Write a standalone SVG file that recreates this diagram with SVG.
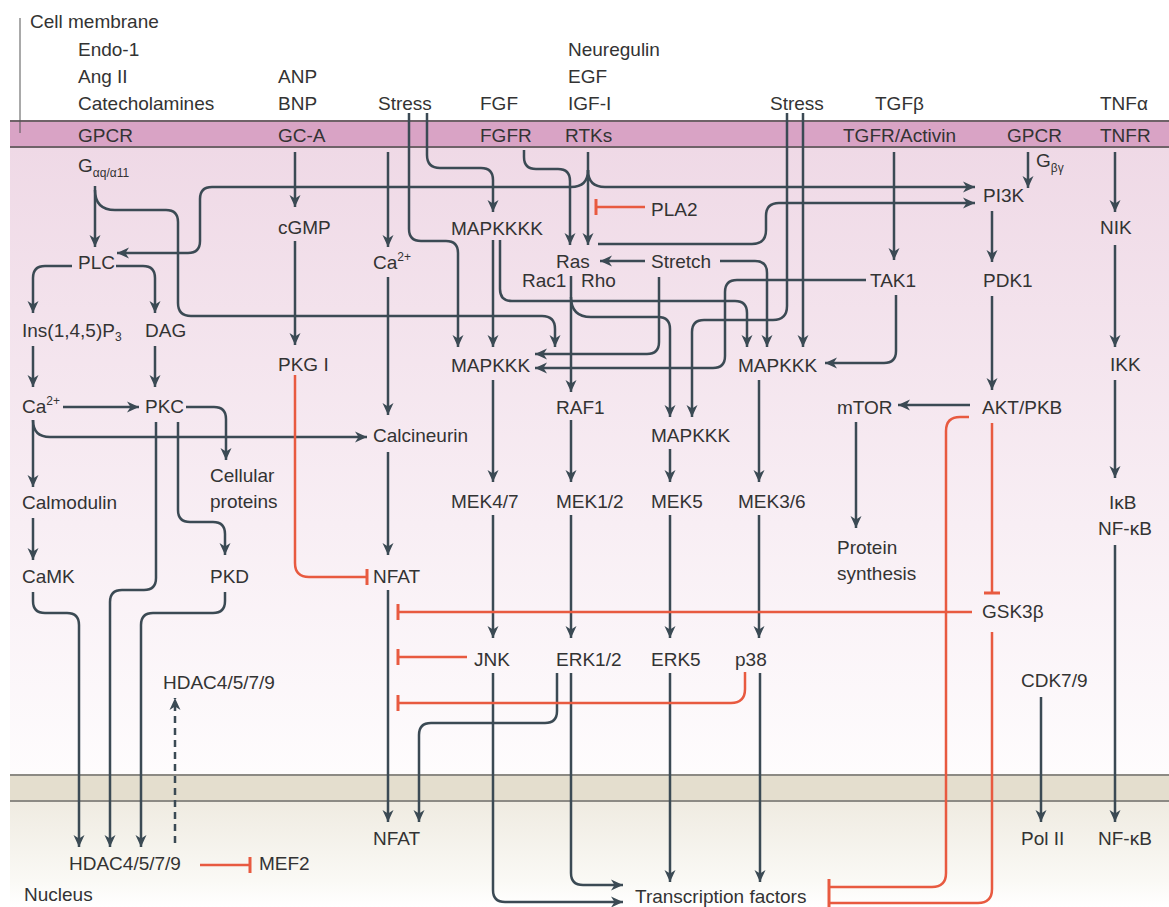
<svg xmlns="http://www.w3.org/2000/svg" width="1169" height="907" viewBox="0 0 1169 907">
<defs>
<linearGradient id="cyto" x1="0" y1="0" x2="0" y2="1"><stop offset="0" stop-color="#efd9e6"/><stop offset="0.6" stop-color="#f8eef4"/><stop offset="1" stop-color="#fefcfd"/></linearGradient>
<linearGradient id="nuc" x1="0" y1="0" x2="0" y2="1"><stop offset="0" stop-color="#efebe1"/><stop offset="0.75" stop-color="#faf9f5"/><stop offset="1" stop-color="#ffffff"/></linearGradient>
<marker id="ah" viewBox="0 0 12 12" refX="12" refY="6" markerWidth="12" markerHeight="12" orient="auto" markerUnits="userSpaceOnUse"><path d="M0,0.5 L12,6 L0,11.5 L3.5,6 z" fill="#3b4a54"/></marker>
<marker id="tee" viewBox="0 0 4 16" refX="2" refY="8" markerWidth="4" markerHeight="16" orient="auto" markerUnits="userSpaceOnUse"><rect x="0.5" y="0" width="3" height="16" fill="#e85a40"/></marker>
</defs>
<style>
text{font-family:"Liberation Sans",Arial,sans-serif;font-size:19px;fill:#333}
.sub{font-size:12px}
.c{fill:none;stroke:#3b4a54;stroke-width:2.5;marker-end:url(#ah)}
.d{fill:none;stroke:#3b4a54;stroke-width:2.5;stroke-dasharray:7,5;marker-end:url(#ah)}
.r{fill:none;stroke:#e85a40;stroke-width:2.5;marker-end:url(#tee)}
</style>
<rect width="1169" height="907" fill="#ffffff"/>
<g id="background">
<rect x="10" y="147" width="1159" height="628" fill="url(#cyto)"/>
<rect x="10" y="121" width="1159" height="26" fill="#d9a3c5"/>
<line x1="10" y1="121" x2="1169" y2="121" stroke="#6f6268" stroke-width="2"/>
<line x1="10" y1="147" x2="1169" y2="147" stroke="#6f6268" stroke-width="2"/>
<rect x="10" y="801" width="1159" height="106" fill="url(#nuc)"/>
<rect x="10" y="775" width="1159" height="26" fill="#e4dece"/>
<line x1="10" y1="775" x2="1169" y2="775" stroke="#8c8a84" stroke-width="2"/>
<line x1="10" y1="801" x2="1169" y2="801" stroke="#8c8a84" stroke-width="2"/>
<line x1="20" y1="18" x2="20" y2="133" stroke="#555" stroke-width="1"/>
</g>
<g id="connectors">
<path class="c" d="M95,186 L95,247"/>
<path class="c" d="M95,190 Q95,210 115,210 L166,210 Q178,210 178,222 L178,303 Q178,316 191,316 L542,316 Q555,316 555,329 L555,347"/>
<path class="c" d="M588,152 L588,245"/>
<path class="c" d="M588,170 Q588,187 571,187 L212,187 Q200,187 200,199 L200,241 Q200,253 188,253 L117,253"/>
<path class="c" d="M588,170 Q588,187 605,187 L975,187"/>
<path class="c" d="M598,244 L752,244 Q766,244 766,230 L766,216 Q766,203 779,203 L975,203"/>
<path class="c" d="M409,113 L409,229 Q409,241 421,241 L446,241 Q458,241 458,253 L458,347"/>
<path class="c" d="M427,113 L427,155 Q427,168 440,168 L481,168 Q493,168 493,180 L493,212"/>
<path class="c" d="M493,240 L493,347"/>
<path class="c" d="M500,240 L500,289 Q500,301 512,301 L735,301 Q747,301 747,313 L747,347"/>
<path class="c" d="M524,150 L524,157 Q524,169 536,169 L558,169 Q570,169 570,181 L570,245"/>
<path class="c" d="M645,261 L600,261"/>
<path class="c" d="M659,277 L659,342 Q659,354 647,354 L535,354"/>
<path class="c" d="M720,261 L755,261 Q767,261 767,273 L767,347"/>
<path class="c" d="M866,280 L737,280 Q725,280 725,292 L725,356 Q725,368 713,368 L535,368"/>
<path class="c" d="M787,113 L787,306 Q787,320 773,320 L704,320 Q692,320 692,332 L692,417"/>
<path class="c" d="M803,113 L803,347"/>
<path class="c" d="M571,276 L571,392"/>
<path class="c" d="M571,297 Q571,317 591,317 L658,317 Q670,317 670,329 L670,417"/>
<path class="c" d="M493,380 L493,482"/>
<path class="c" d="M571,420 L571,482"/>
<path class="c" d="M670,449 L670,482"/>
<path class="c" d="M759,380 L759,482"/>
<path class="c" d="M493,515 L493,638"/>
<path class="c" d="M571,515 L571,638"/>
<path class="c" d="M670,515 L670,638"/>
<path class="c" d="M759,515 L759,638"/>
<path class="c" d="M493,673 L493,890 Q493,902 505,902 L623,902"/>
<path class="c" d="M571,673 L571,873 Q571,885 583,885 L623,885"/>
<path class="c" d="M670,673 L670,882"/>
<path class="c" d="M760,673 L760,882"/>
<path class="c" d="M557,673 L557,711 Q557,723 545,723 L431,723 Q419,723 419,735 L419,822"/>
<path class="c" d="M388,152 L388,247"/>
<path class="c" d="M388,277 L388,415"/>
<path class="c" d="M388,452 L388,555"/>
<path class="c" d="M388,590 L388,822"/>
<path class="c" d="M295,152 L295,207"/>
<path class="c" d="M295,241 L295,345"/>
<path class="c" d="M72,266 L45,266 Q33,266 33,278 L33,313"/>
<path class="c" d="M116,266 L143,266 Q155,266 155,278 L155,313"/>
<path class="c" d="M33,346 L33,387"/>
<path class="c" d="M155,346 L155,387"/>
<path class="c" d="M63,407 L139,407"/>
<path class="c" d="M33,420 Q33,437 50,437 L367,437"/>
<path class="c" d="M33,420 L33,487"/>
<path class="c" d="M33,518 L33,560"/>
<path class="c" d="M186,407 L214,407 Q226,407 226,419 L226,460"/>
<path class="c" d="M178,422 L178,510 Q178,522 190,522 L213,522 Q225,522 225,534 L225,555"/>
<path class="c" d="M156,422 L156,578 Q156,590 144,590 L122,590 Q110,590 110,602 L110,847"/>
<path class="c" d="M33,592 L33,601 Q33,613 45,613 L67,613 Q79,613 79,625 L79,847"/>
<path class="c" d="M225,592 L225,601 Q225,613 213,613 L153,613 Q141,613 141,625 L141,847"/>
<path class="d" d="M175,843 L175,698"/>
<path class="c" d="M894,152 L894,260"/>
<path class="c" d="M896,295 L896,351 Q896,363 884,363 L825,363"/>
<path class="c" d="M1028,152 L1028,188"/>
<path class="c" d="M992,211 L992,262"/>
<path class="c" d="M992,296 L992,390"/>
<path class="c" d="M1115,152 L1115,212"/>
<path class="c" d="M1115,245 L1115,347"/>
<path class="c" d="M1115,380 L1115,478"/>
<path class="c" d="M1115,545 L1115,822"/>
<path class="c" d="M970,405 L898,405"/>
<path class="c" d="M856,422 L856,528"/>
<path class="c" d="M1041,697 L1041,822"/>
<path class="r" d="M295,375 L295,563 Q295,577 309,577 L367,577"/>
<path class="r" d="M992,423 L992,593"/>
<path class="r" d="M969,417 L960,417 Q946,417 946,431 L946,873 Q946,887 932,887 L829,887"/>
<path class="r" d="M992,632 L992,889 Q992,903 978,903 L829,903"/>
<path class="r" d="M972,612 L398,612"/>
<path class="r" d="M467,657 L398,657"/>
<path class="r" d="M745,672 L745,689 Q745,703 731,703 L398,703"/>
<path class="r" d="M645,207 L596,207"/>
<path class="r" d="M200,865 L250,865"/>
</g>
<g id="labels-top">
<text x="30" y="28">Cell membrane</text>
<text x="78" y="56">Endo-1</text>
<text x="78" y="83">Ang II</text>
<text x="78" y="110">Catecholamines</text>
<text x="278" y="83">ANP</text>
<text x="278" y="110">BNP</text>
<text x="378" y="110">Stress</text>
<text x="480" y="110">FGF</text>
<text x="568" y="56">Neuregulin</text>
<text x="568" y="83">EGF</text>
<text x="568" y="110">IGF-I</text>
<text x="770" y="110">Stress</text>
<text x="875" y="110">TGFβ</text>
<text x="1100" y="110">TNFα</text>
</g>
<g id="n-gpcr1"><text x="78" y="142">GPCR</text></g>
<g id="n-gca"><text x="278" y="142">GC-A</text></g>
<g id="n-fgfr"><text x="480" y="142">FGFR</text></g>
<g id="n-rtks"><text x="565" y="142">RTKs</text></g>
<g id="n-tgfr"><text x="843" y="142">TGFR/Activin</text></g>
<g id="n-gpcr2"><text x="1007" y="142">GPCR</text></g>
<g id="n-tnfr"><text x="1100" y="142">TNFR</text></g>
<g id="n-galpha"><text x="78" y="172">G<tspan class="sub" dy="5">αq/α11</tspan></text></g>
<g id="n-plc"><text x="78" y="269">PLC</text></g>
<g id="n-ins"><text x="22" y="337">Ins(1,4,5)P<tspan class="sub" dy="4">3</tspan></text></g>
<g id="n-dag"><text x="145" y="337">DAG</text></g>
<g id="n-cgmp"><text x="278" y="234">cGMP</text></g>
<g id="n-ca1"><text x="373" y="269">Ca<tspan class="sub" dy="-8">2+</tspan></text></g>
<g id="n-pkg"><text x="278" y="371">PKG I</text></g>
<g id="n-ca2"><text x="22" y="413">Ca<tspan class="sub" dy="-8">2+</tspan></text></g>
<g id="n-pkc"><text x="145" y="413">PKC</text></g>
<g id="n-calcineurin"><text x="373" y="442">Calcineurin</text></g>
<g id="n-cellular"><text x="210" y="482">Cellular</text><text x="210" y="508">proteins</text></g>
<g id="n-calmodulin"><text x="22" y="509">Calmodulin</text></g>
<g id="n-camk"><text x="22" y="583">CaMK</text></g>
<g id="n-pkd"><text x="210" y="583">PKD</text></g>
<g id="n-nfat"><text x="373" y="583">NFAT</text></g>
<g id="n-hdac-cyto"><text x="163" y="689">HDAC4/5/7/9</text></g>
<g id="n-hdac-nuc"><text x="69" y="870">HDAC4/5/7/9</text></g>
<g id="n-mef2"><text x="259" y="870">MEF2</text></g>
<g id="n-nucleus"><text x="24" y="901">Nucleus</text></g>
<g id="n-nfat-nuc"><text x="373" y="845">NFAT</text></g>
<g id="n-mapkkkk"><text x="451" y="235">MAPKKKK</text></g>
<g id="n-ras"><text x="556" y="268">Ras</text><text x="522" y="287">Rac1</text><text x="581" y="287">Rho</text></g>
<g id="n-stretch"><text x="651" y="268">Stretch</text></g>
<g id="n-pla2"><text x="651" y="216">PLA2</text></g>
<g id="n-mapkkk-l"><text x="451" y="372">MAPKKK</text></g>
<g id="n-mapkkk-r"><text x="738" y="372">MAPKKK</text></g>
<g id="n-raf1"><text x="556" y="414">RAF1</text></g>
<g id="n-mapkkk-m"><text x="651" y="442">MAPKKK</text></g>
<g id="n-mek47"><text x="451" y="508">MEK4/7</text></g>
<g id="n-mek12"><text x="556" y="508">MEK1/2</text></g>
<g id="n-mek5"><text x="651" y="508">MEK5</text></g>
<g id="n-mek36"><text x="738" y="508">MEK3/6</text></g>
<g id="n-jnk"><text x="474" y="666">JNK</text></g>
<g id="n-erk12"><text x="556" y="666">ERK1/2</text></g>
<g id="n-erk5"><text x="651" y="666">ERK5</text></g>
<g id="n-p38"><text x="735" y="666">p38</text></g>
<g id="n-tf"><text x="635" y="903">Transcription factors</text></g>
<g id="n-pi3k"><text x="983" y="202">PI3K</text></g>
<g id="n-gbg"><text x="1036" y="167">G<tspan class="sub" dy="5">βγ</tspan></text></g>
<g id="n-nik"><text x="1100" y="234">NIK</text></g>
<g id="n-tak1"><text x="870" y="287">TAK1</text></g>
<g id="n-pdk1"><text x="983" y="287">PDK1</text></g>
<g id="n-ikk"><text x="1110" y="371">IKK</text></g>
<g id="n-mtor"><text x="837" y="414">mTOR</text></g>
<g id="n-akt"><text x="982" y="414">AKT/PKB</text></g>
<g id="n-protein"><text x="837" y="554">Protein</text><text x="837" y="580">synthesis</text></g>
<g id="n-ikb"><text x="1109" y="509">IκB</text><text x="1098" y="535">NF-κB</text></g>
<g id="n-gsk"><text x="982" y="618">GSK3β</text></g>
<g id="n-cdk"><text x="1021" y="687">CDK7/9</text></g>
<g id="n-pol2"><text x="1021" y="845">Pol II</text></g>
<g id="n-nfkb-nuc"><text x="1098" y="845">NF-κB</text></g>
</svg>
